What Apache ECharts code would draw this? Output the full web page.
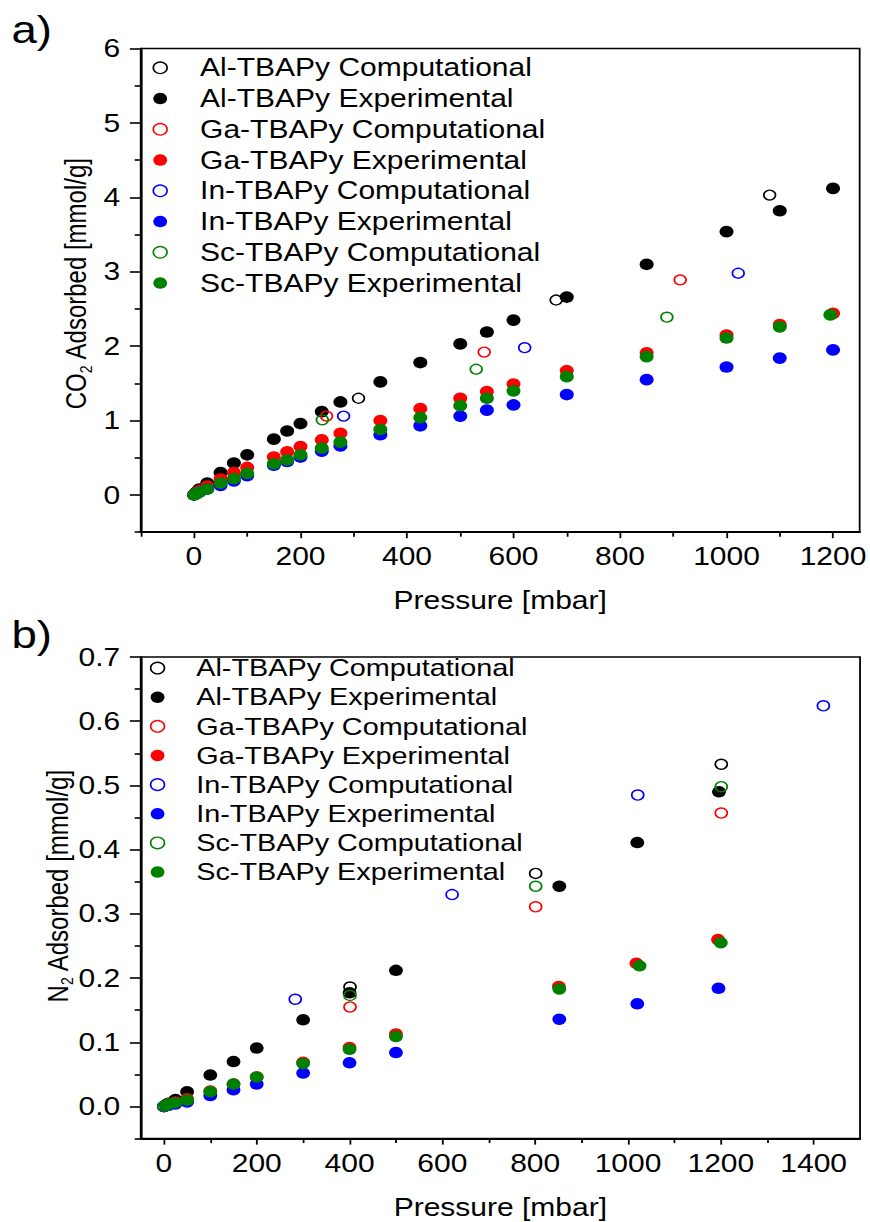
<!DOCTYPE html>
<html><head><meta charset="utf-8">
<script src="https://cdn.jsdelivr.net/npm/echarts@6/dist/echarts.min.js"></script>
<style>
html,body{margin:0;padding:0;background:#fff;overflow:hidden;width:870px;height:1222px;}
#chart{width:725px;height:1222px;transform:scaleX(1.2);transform-origin:0 0;}
</style></head><body><div id="chart"></div>
<script>
// ---------- names ----------
const seriesNames = ['Al-TBAPy Computational','Al-TBAPy Experimental','Ga-TBAPy Computational','Ga-TBAPy Experimental',
  'In-TBAPy Computational','In-TBAPy Experimental','Sc-TBAPy Computational','Sc-TBAPy Experimental'];
const seriesColors = ['#000000','#000000','#ff0000','#ff0000','#0000ff','#0000ff','#008000','#008000'];
const seriesOpen = [true,false,true,false,true,false,true,false];

// ---------- panel a) CO2, [pressure mbar, mmol/g] ----------
const co2AlComp = [[0,0],[309,1.30],[680,2.62],[1081,4.03]];
const co2AlExp = [[1,0.01],[5,0.04],[10,0.08],[25,0.16],[50,0.30],[75,0.43],[100,0.54],[150,0.75],[175,0.86],[200,0.96],[240,1.12],[275,1.25],[350,1.52],[425,1.78],[500,2.03],[550,2.19],[600,2.35],[700,2.66],[850,3.10],[1000,3.54],[1100,3.82],[1200,4.12]];
const co2GaComp = [[0,0],[249,1.06],[545,1.92],[913,2.89]];
const co2GaExp = [[5,0.03],[10,0.06],[25,0.12],[50,0.215],[75,0.30],[100,0.37],[150,0.51],[175,0.58],[200,0.65],[240,0.74],[275,0.83],[350,1.00],[425,1.16],[500,1.30],[550,1.39],[600,1.49],[700,1.67],[850,1.91],[1000,2.15],[1100,2.29],[1200,2.44]];
const co2InComp = [[0,0],[281,1.06],[621,1.98],[1022,2.98]];
const co2InExp = [[5,0.02],[10,0.04],[25,0.08],[50,0.13],[75,0.19],[100,0.26],[150,0.40],[175,0.45],[200,0.51],[240,0.59],[275,0.66],[350,0.81],[425,0.93],[500,1.06],[550,1.14],[600,1.21],[700,1.35],[850,1.55],[1000,1.72],[1100,1.84],[1200,1.95]];
const co2ScComp = [[0,0],[241,1.01],[530,1.69],[888,2.39]];
const co2ScExp = [[1,0.005],[5,0.02],[10,0.04],[25,0.08],[50,0.16],[75,0.22],[100,0.29],[150,0.42],[175,0.47],[200,0.54],[240,0.63],[275,0.71],[350,0.88],[425,1.04],[500,1.20],[550,1.30],[600,1.40],[700,1.59],[850,1.86],[1000,2.11],[1100,2.26],[1195,2.42]];

// ---------- panel b) N2 ----------
const n2AlComp = [[0,0],[401,0.186],[801,0.363],[1201,0.533]];
const n2AlExp = [[5,0.003],[10,0.005],[25,0.011],[50,0.023],[100,0.049],[150,0.070],[200,0.091],[300,0.135],[400,0.177],[500,0.212],[852,0.343],[1020,0.411],[1196,0.490]];
const n2GaComp = [[0,0],[401,0.155],[801,0.311],[1201,0.457]];
const n2GaExp = [[5,0.002],[10,0.004],[25,0.007],[50,0.012],[100,0.024],[150,0.035],[200,0.046],[300,0.069],[400,0.092],[500,0.113],[851,0.187],[1018,0.223],[1194,0.260]];
const n2InComp = [[0,0],[283,0.167],[621,0.330],[1021,0.485],[1421,0.624]];
const n2InExp = [[5,0.001],[10,0.002],[25,0.004],[50,0.007],[100,0.017],[150,0.026],[200,0.035],[300,0.052],[400,0.068],[500,0.084],[852,0.136],[1020,0.160],[1195,0.184]];
const n2ScComp = [[0,0],[401,0.173],[801,0.343],[1201,0.498]];
const n2ScExp = [[5,0.002],[10,0.004],[25,0.006],[50,0.010],[100,0.023],[150,0.035],[200,0.046],[300,0.067],[400,0.089],[500,0.109],[852,0.183],[1025,0.219],[1200,0.255]];

// ---------- ticks ----------
const co2XTicks = [0,200,400,600,800,1000,1200];
const co2XMinor = [-100,100,300,500,700,900,1100];
const co2YTicks = [0,1,2,3,4,5,6];
const co2YMinor = [-0.5,0.5,1.5,2.5,3.5,4.5,5.5];
const n2XTicks = [0,200,400,600,800,1000,1200,1400];
const n2XMinor = [100,300,500,700,900,1100,1300];
const n2YTicks = [0,0.1,0.2,0.3,0.4,0.5,0.6,0.7];
const n2YMinor = [-0.05,0.05,0.15,0.25,0.35,0.45,0.55,0.65];

const co2Data = [co2AlComp,co2AlExp,co2GaComp,co2GaExp,co2InComp,co2InExp,co2ScComp,co2ScExp];
const n2Data = [n2AlComp,n2AlExp,n2GaComp,n2GaExp,n2InComp,n2InExp,n2ScComp,n2ScExp];

const FONT = "'Liberation Sans', Arial, Helvetica, sans-serif";
const AX = '#000';

function makeSeries(list, axIdx, openSize, fillSize) {
  return list.map((d, i) => ({
    name: seriesNames[i], type: 'scatter', xAxisIndex: axIdx, yAxisIndex: axIdx,
    data: d, symbol: 'circle', symbolSize: seriesOpen[i] ? openSize : fillSize,
    itemStyle: seriesOpen[i]
      ? { color: 'rgba(255,255,255,0)', borderColor: seriesColors[i], borderWidth: 1.4, opacity: 1 }
      : { color: seriesColors[i], borderWidth: 0, opacity: 1 },
    emphasis: { disabled: true }, silent: true, animation: false
  }));
}

function xAxes(grid, min, max, ticks, minor) {
  return [
    { gridIndex: grid, type: 'value', position: 'bottom', min: min, max: max,
      axisLine: { show: true, onZero: false, lineStyle: { color: AX, width: 2 } },
      axisTick: { show: true, customValues: ticks, length: 6, lineStyle: { color: AX, width: 1.5 } },
      axisLabel: { show: true, customValues: ticks, margin: 12, fontSize: 25, color: '#000', fontFamily: FONT, formatter: v => String(v) },
      splitLine: { show: false },
      name: 'Pressure [mbar]', nameLocation: 'middle', nameGap: 56, nameMoveOverlap: false,
      nameTextStyle: { fontSize: 25, color: '#000', fontFamily: FONT } },
    { gridIndex: grid, type: 'value', position: 'bottom', min: min, max: max,
      axisLine: { show: false, onZero: false },
      axisTick: { show: true, customValues: minor, length: 4.5, lineStyle: { color: AX, width: 1.5 } },
      axisLabel: { show: false }, splitLine: { show: false } }
  ];
}
function yAxes(grid, min, max, ticks, minor, name, gap, pad, fmt) {
  return [
    { gridIndex: grid, type: 'value', position: 'left', min: min, max: max,
      axisLine: { show: true, onZero: false, lineStyle: { color: AX, width: 1.7 } },
      axisTick: { show: true, customValues: ticks, length: 9, lineStyle: { color: AX, width: 1.6 } },
      axisLabel: { show: true, customValues: ticks, margin: 17, fontSize: 25, color: '#000', fontFamily: FONT, formatter: fmt },
      splitLine: { show: false },
      name: name, nameLocation: 'middle', nameGap: gap, nameMoveOverlap: false,
      nameTextStyle: { fontSize: 24, color: '#000', fontFamily: FONT, padding: [0, 0, 0, pad],
        rich: { s: { fontSize: 14, color: '#000', fontFamily: FONT, padding: [16, 0, 0, 0] } } } },
    { gridIndex: grid, type: 'value', position: 'left', min: min, max: max,
      axisLine: { show: false, onZero: false },
      axisTick: { show: true, customValues: minor, length: 5, lineStyle: { color: AX, width: 1.6 } },
      axisLabel: { show: false }, splitLine: { show: false } }
  ];
}

const xA = xAxes(0, -100, 1250, co2XTicks, co2XMinor).concat(xAxes(1, -50, 1500, n2XTicks, n2XMinor));
const yA = yAxes(0, -0.5, 6, co2YTicks, co2YMinor, 'CO{s|2} Adsorbed [mmol/g]', 38.5, 14, v => String(v))
  .concat(yAxes(1, -0.05, 0.7, n2YTicks, n2YMinor, 'N{s|2} Adsorbed [mmol/g]', 54, 24, v => v.toFixed(1)));

const legendData = seriesNames.map(n => ({ name: n, icon: 'circle' }));
function legendCfg(left, top, gapW, fs, lh) {
  return { data: legendData, orient: 'vertical', left: left, top: top, itemWidth: 11.5, itemHeight: 11.5, itemGap: 0, padding: 0,
    selectedMode: false, formatter: n => '{g|}' + n,
    textStyle: { fontSize: fs, fontFamily: FONT, color: '#000', lineHeight: lh, rich: { g: { width: gapW } } },
    itemStyle: { borderWidth: 1.4, opacity: 1 } };
}
const option = {
  backgroundColor: '#fff',
  animation: false,
  grid: [
    { left: 117.25, right: 7.5, top: 48.5, height: 483.7, show: true, borderColor: AX, borderWidth: 1.5, backgroundColor: 'transparent' },
    { left: 117.25, right: 8.3, top: 657, height: 481.6, show: true, borderColor: AX, borderWidth: 1.5, backgroundColor: 'transparent' }
  ],
  xAxis: xA,
  yAxis: yA,
  legend: [
    legendCfg(127.05, 52.4, 22.5, 25, 30.75),
    legendCfg(124.85, 653.5, 21.5, 24, 29.14)
  ],
  graphic: [
    { type: 'text', x: 9.5, y: 30, silent: true, style: { text: 'a)', font: "38px 'Liberation Sans', Arial, sans-serif", fill: '#000', verticalAlign: 'middle' } },
    { type: 'text', x: 9.5, y: 635, silent: true, style: { text: 'b)', font: "38px 'Liberation Sans', Arial, sans-serif", fill: '#000', verticalAlign: 'middle' } }
  ],
  series: makeSeries(co2Data, 0, 9.8, 11.7).concat(makeSeries(n2Data, 2, 10, 11.5))
};

const chart = echarts.init(document.getElementById('chart'), null, { renderer: 'svg' });
chart.setOption(option);
</script></body></html>
